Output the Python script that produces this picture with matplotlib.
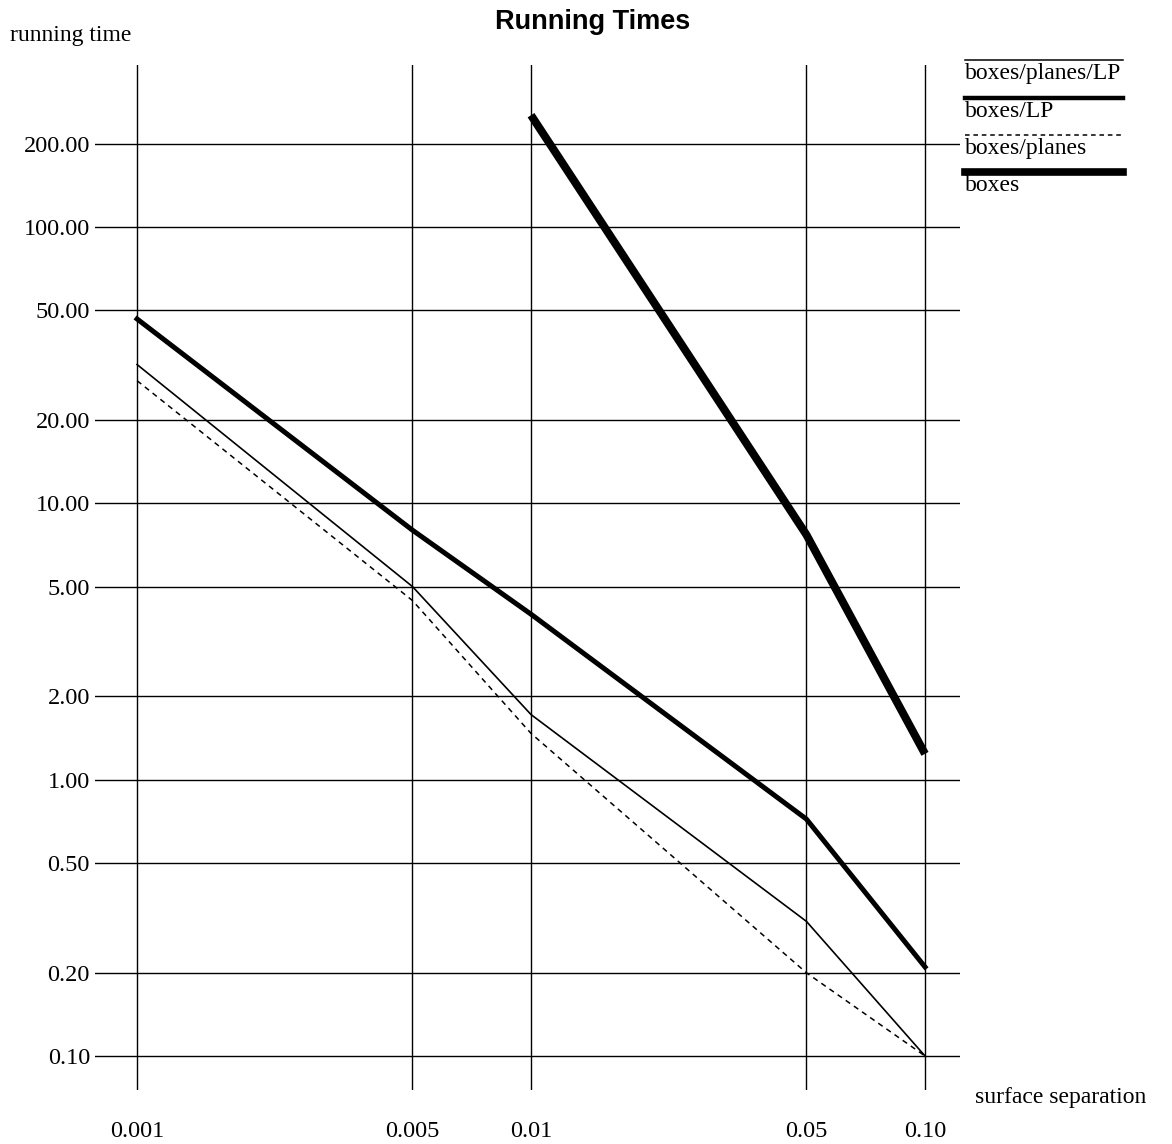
import matplotlib
matplotlib.use("Agg")
import matplotlib.pyplot as plt
from matplotlib.lines import Line2D

# surface separation values
sep = [0.001, 0.005, 0.01, 0.05, 0.10]
sep_labels = ["0.001", "0.005", "0.01", "0.05", "0.10"]

# running times
boxes_planes_lp = [31.8, 5.0, 1.72, 0.307, 0.10]
boxes_lp = [46.5, 8.0, 3.97, 0.72, 0.21]
boxes_planes = [27.8, 4.45, 1.47, 0.20, 0.10]
boxes_sep = [0.01, 0.05, 0.10]
boxes = [254, 7.7, 1.24]

yticks = [0.1, 0.2, 0.5, 1, 2, 5, 10, 20, 50, 100, 200]

serif = "Liberation Serif"
W, H = 1172, 1144

fig = plt.figure(figsize=(W / 100, H / 100), dpi=100)
ax = fig.add_axes([95 / W, 1 - 1090 / H, (960 - 95) / W, (1090 - 65) / H])

ax.plot(sep, boxes_planes_lp, color="black", lw=1.2)
ax.plot(sep, boxes_lp, color="black", lw=3.6, solid_joinstyle="miter")
ax.plot(sep, boxes_planes, color="black", lw=1.1, linestyle=(0, (3.5, 3)))
ax.plot(boxes_sep, boxes, color="black", lw=5.8, solid_capstyle="butt")

ax.set_xscale("log")
ax.set_yscale("log")
ax.set_xlim(0.000782, 0.1227)
ax.set_ylim(0.0753, 386)

ax.set_xticks(sep)
ax.set_xticklabels(sep_labels)
ax.set_yticks(yticks)
ax.set_yticklabels(["%.2f" % v for v in yticks])
ax.minorticks_off()
ax.tick_params(length=0, labelsize=17.5)
ax.tick_params(axis="y", pad=3.6)
ax.tick_params(axis="x", pad=22)
for lab in ax.get_xticklabels() + ax.get_yticklabels():
    lab.set_fontfamily(serif)

ax.grid(True, color="black", lw=1.0)
ax.set_axisbelow(True)
for s in ax.spines.values():
    s.set_visible(False)

fig.text(593 / W, 1 - 22 / H, "Running Times", ha="center", va="center",
         fontsize=19.5, fontweight="bold", family="Liberation Sans")
fig.text(10 / W, 1 - 35 / H, "running time", ha="left", va="center",
         fontsize=17, family=serif)
fig.text(975 / W, 1 - 1097 / H, "surface separation", ha="left", va="center",
         fontsize=17, family=serif)

# legend: line above each label
legend = [
    ("boxes/planes/LP", 60, 1.1, "-"),
    ("boxes/LP", 98, 3.2, "-"),
    ("boxes/planes", 135, 1.1, (0, (3, 2.5))),
    ("boxes", 172, 5.5, "-"),
]
for label, ypix, lw, ls in legend:
    y = 1 - ypix / H
    fig.add_artist(Line2D([965 / W, 1123 / W], [y, y], color="black", lw=lw,
                          linestyle=ls, transform=fig.transFigure))
    fig.text(965 / W, 1 - (ypix + 3) / H, label, ha="left", va="top",
             fontsize=17, family=serif)

fig.savefig("out.png", dpi=100, facecolor="white")
